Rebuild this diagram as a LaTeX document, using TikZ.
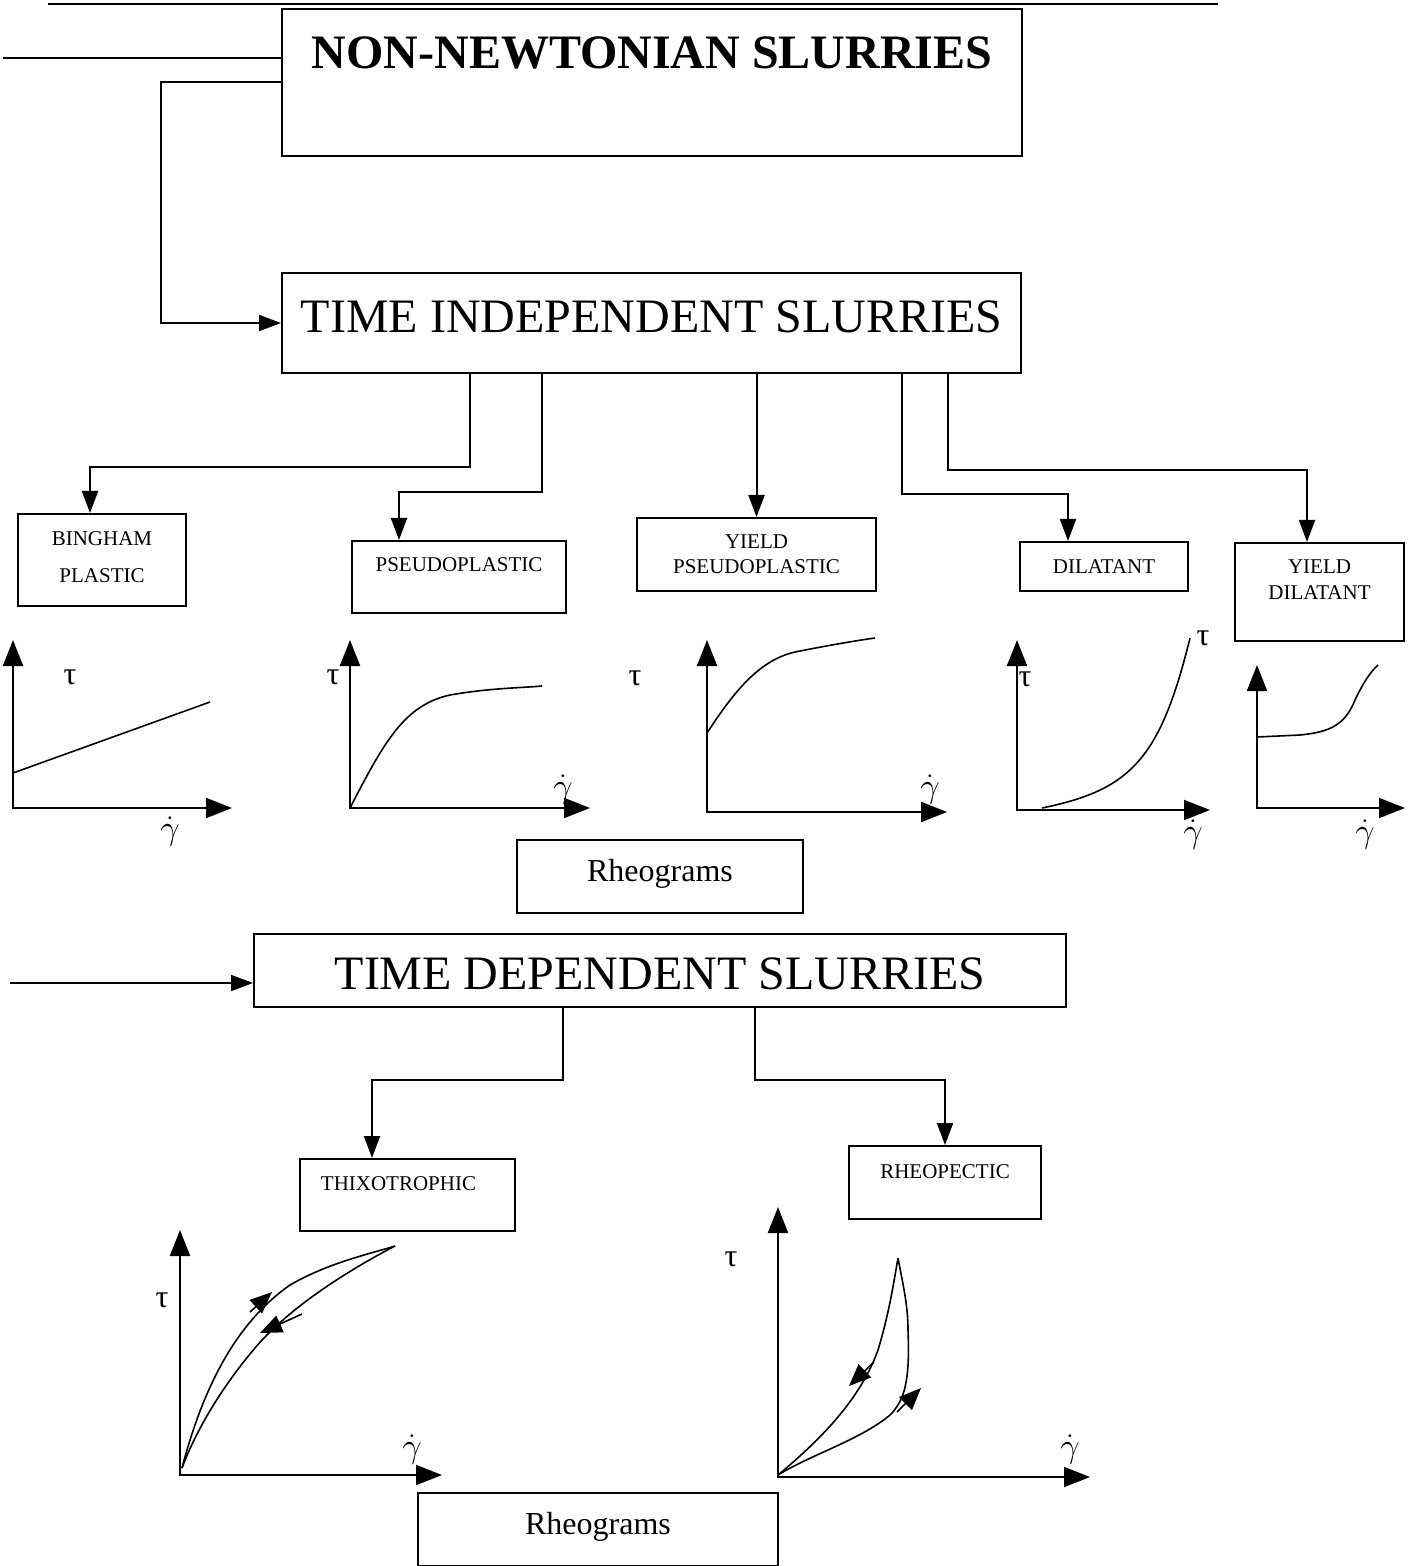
\documentclass[tikz,border=0pt]{standalone}
\usepackage{fontspec}
\setmainfont{Liberation Serif}
\usetikzlibrary{arrows.meta}

\begin{document}
\begin{tikzpicture}[%
    x=0.5pt, y=-0.5pt,          % work in scan pixels, y going down
    >={Triangle[length=11pt,width=8pt]}, % Filled heads on the tree
    line width=1pt,
    ]
% -------------------------------------------------
% Box and line styles
\tikzset{
  box/.style={draw, anchor=north west, inner sep=0pt, align=center},
  big/.style={font=\fontsize{24}{28}\selectfont},
  small/.style={font=\fontsize{10.5}{12.5}\selectfont},
  axes/.style={{Triangle[length=13pt,width=10pt]}-{Triangle[length=13pt,width=10pt]}},
  curve/.style={line width=0.8pt},
  flow/.style={line width=0.8pt, -{Triangle[length=11pt,width=9pt]}},
  sym/.style={font=\fontsize{16}{18}\selectfont, inner sep=0pt}
}
\useasboundingbox (0,0) rectangle (1414,1566);
% -------------------------------------------------
% Start by placing the boxes
\node[box, minimum width=370pt, text height=30pt, text depth=43.5pt,
      font=\fontsize{24}{28}\selectfont\bfseries] (nonnewt) at (281,8) {NON-NEWTONIAN SLURRIES};
\node[box, big, minimum width=369.5pt, text height=30pt, text depth=20pt] (tindep) at (281,272) {TIME INDEPENDENT SLURRIES};

% two line boxes: text height runs down to the last baseline
\node[box, minimum width=84pt, text height=34pt, text depth=12pt,
      font=\fontsize{10.5}{18.5}\selectfont] (bing) at (17,513) {BINGHAM\\PLASTIC};
\node[box, small, minimum width=107pt, text height=15pt, text depth=21pt] (pseudo) at (351,540) {PSEUDOPLASTIC};
\node[box, small, minimum width=119.5pt, text height=27.5pt, text depth=9pt] (ypseudo) at (636,517) {YIELD\\PSEUDOPLASTIC};
\node[box, small, minimum width=84pt, text height=15.5pt, text depth=9pt] (dil) at (1019,541) {DILATANT};
\node[box, minimum width=84.5pt, text height=28pt, text depth=21pt,
      font=\fontsize{10.5}{13}\selectfont] (ydil) at (1234,542) {YIELD\\DILATANT};

\node[box, minimum width=143pt, text height=20.5pt, text depth=16pt,
      font=\fontsize{16}{19}\selectfont] (rheo1) at (516,839) {Rheograms};

\node[box, big, minimum width=406pt, text height=27.5pt, text depth=9pt] (tdep) at (253,933) {TIME DEPENDENT SLURRIES};
\node[box, small, minimum width=107.5pt, text height=15.5pt, text depth=20.5pt] (thixo) at (299,1158) {THIXOTROPHIC\hspace*{9pt}};
\node[box, small, minimum width=96pt, text height=16pt, text depth=20.5pt] (rheop) at (848,1145) {RHEOPECTIC};
\node[box, minimum width=180pt, text height=20.5pt, text depth=16pt,
      font=\fontsize{16}{19}\selectfont] (rheo2) at (417,1492) {Rheograms};

% -------------------------------------------------
% Connectors
\coordinate (topL) at (48,4);
\coordinate (topR) at (1218,4);
\draw (topL) -- (topR);
\coordinate (feed) at (3,58);
\draw (feed) -- (feed -| nonnewt.west);
\draw[->] (nonnewt.west) -- ++(-120,0) |- (tindep.west);

\draw[->] (tindep.south -| 470,0) -- ++(0,93) -| ([xshift=36.5pt]bing.north west);
\draw[->] (tindep.south -| 542,0) -- ++(0,118) -| ([xshift=24pt]pseudo.north west);
\draw[->] (tindep.south -| ypseudo.north) -- (ypseudo.north);
\draw[->] (tindep.south -| 902,0) -- ++(0,120) -| ([xshift=24.5pt]dil.north west);
\draw[->] (tindep.south -| 948,0) -- ++(0,96) -| ([xshift=36.5pt]ydil.north west);

\coordinate (tdfeed) at (10,983);
\draw[->] (tdfeed) -- (tdfeed -| tdep.west);
\draw[->] (tdep.south -| 563,0) -- ++(0,72) -| ([xshift=36.5pt]thixo.north west);
\draw[->] (tdep.south -| 755,0) -- ++(0,72) -| ([xshift=48.5pt]rheop.north west);

% -------------------------------------------------
% Rheogram axes
\foreach \ox/\oy/\ytop/\xend in {13/808/640/232, 350/808/640/590, 707/812/640/947,
    1017/810/640/1210, 1257/808/665/1405, 180/1475/1230/442, 778/1477/1207/1090}
  \draw[axes] (\ox,\ytop) |- (\xend,\oy);

% time independent curves
\draw[curve] (13,773) -- (210,702);                                   % bingham
\draw[curve] (350,808) .. controls (385,740) and (405,705) .. (450,695)
             .. controls (490,688) and (520,688) .. (542,686);          % pseudoplastic
\draw[curve] (707,733) .. controls (735,690) and (760,660) .. (795,652)
             .. controls (830,645) and (860,640) .. (875,638);          % yield pseudo
\draw[curve] (1042,808) .. controls (1130,790) and (1160,760) .. (1190,638); % dilatant
\draw[curve] (1257,737) -- (1300,735) .. controls (1330,732) and (1345,725) .. (1355,700)
             .. controls (1362,685) and (1370,672) .. (1378,665);       % yield dilatant

% thixotrophic loop
\draw[curve] (182,1468) .. controls (205,1380) and (240,1320) .. (290,1285)
             .. controls (330,1262) and (370,1254) .. (395,1246);
\draw[curve] (395,1246) .. controls (345,1272) and (295,1305) .. (262,1340)
             .. controls (228,1378) and (198,1425) .. (182,1468);
\draw[flow] (250,1312) -- (272,1292);
\draw[flow] (302,1314) -- (260,1333);

% rheopectic loop
\draw[curve] (778,1475) .. controls (820,1440) and (860,1400) .. (878,1350)
             .. controls (890,1310) and (894,1280) .. (898,1258);
\draw[curve] (898,1258) .. controls (903,1285) and (908,1305) .. (908,1330)
             .. controls (910,1380) and (905,1400) .. (890,1415)
             .. controls (860,1440) and (810,1455) .. (778,1475);
\draw[flow] (874,1362) -- (849,1386);
\draw[flow] (897,1412) -- (921,1388);

% axis symbols
\node[sym] (tau1) at (70,677) {τ};
\node[sym] (gam1) at (170,832) {$\dot{\gamma}$};
\node[sym] (tau2) at (333,677) {τ};
\node[sym] (gam2) at (563,790) {$\dot{\gamma}$};
\node[sym] (tau3) at (635,678) {τ};
\node[sym] (gam3) at (930,790) {$\dot{\gamma}$};
\node[sym] (tau4) at (1025,679) {τ};
\node[sym] (tau4b) at (1203,638) {τ};
\node[sym] (gam4) at (1193,835) {$\dot{\gamma}$};
\node[sym] (gam5) at (1365,835) {$\dot{\gamma}$};
\node[sym] (tau6) at (162,1300) {τ};
\node[sym] (gam6) at (412,1450) {$\dot{\gamma}$};
\node[sym] (tau7) at (731,1259) {τ};
\node[sym] (gam7) at (1070,1450) {$\dot{\gamma}$};

% -------------------------------------------------
\end{tikzpicture}
\end{document}
